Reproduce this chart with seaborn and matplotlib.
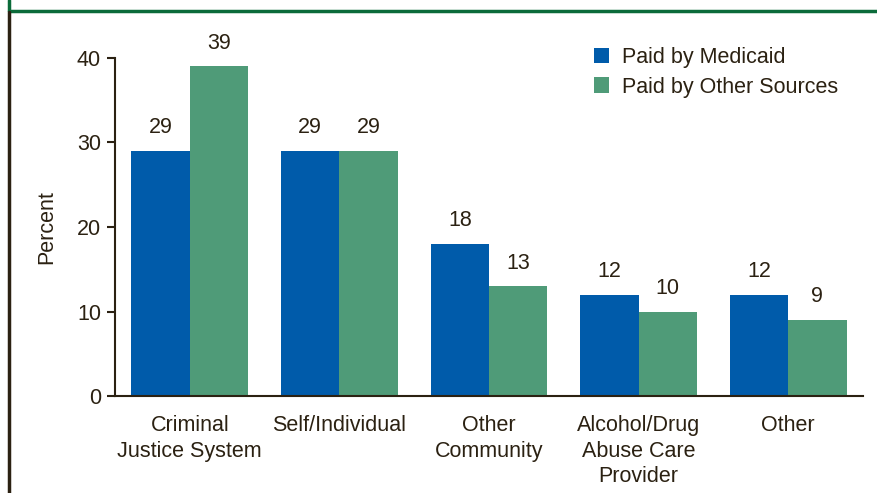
import matplotlib
matplotlib.use("Agg")
import matplotlib.pyplot as plt
import seaborn as sns
import pandas as pd
from matplotlib.lines import Line2D

categories = ["Criminal\nJustice System", "Self/Individual", "Other\nCommunity",
              "Alcohol/Drug\nAbuse Care\nProvider", "Other"]
medicaid = [29, 29, 18, 12, 12]
other_sources = [39, 29, 13, 10, 9]
series = ["Paid by Medicaid", "Paid by Other Sources"]
yticks = [0, 10, 20, 30, 40]

df = pd.DataFrame({
    "category": categories * 2,
    "value": medicaid + other_sources,
    "series": [series[0]] * len(categories) + [series[1]] * len(categories),
})

sns.set_style("white")
plt.rcParams["font.family"] = ["Liberation Sans", "DejaVu Sans"]
txt = "#2b2112"
fs = 15.5

fig = plt.figure(figsize=(8.77, 4.93), dpi=100)
ax = fig.add_axes([115/877, 1 - 396/493, (863-115)/877, (396-58)/493])

palette = {series[0]: "#005BAA", series[1]: "#4F9B78"}
sns.barplot(data=df, x="category", y="value", hue="series", palette=palette,
            width=0.78, gap=0, saturation=1, ax=ax, order=categories, hue_order=series,
            linewidth=0, edgecolor="none")

for cont in ax.containers:
    ax.bar_label(cont, padding=9, fontsize=fs, color=txt)

ax.set_ylim(0, 40)
ax.set_xlim(-0.5, len(categories) - 0.5)
ax.set_yticks(yticks)
ax.set_yticklabels([str(t) for t in yticks], fontsize=fs, color=txt)
ax.set_xticks(range(len(categories)))
ax.set_xticklabels(categories, fontsize=fs, color=txt, linespacing=1.28)
ax.set_xticks([i - 0.5 for i in range(len(categories) + 1)], minor=True)
ax.tick_params(axis="x", which="major", length=0, pad=14)
ax.tick_params(axis="x", which="minor", length=6, width=1.5, color=txt, direction="out")
ax.tick_params(axis="y", length=6, width=1.5, color=txt, direction="out", pad=4, left=True)
ax.set_xlabel("")
ax.set_ylabel("Percent", fontsize=fs, color=txt, labelpad=14)

for s in ["top", "right"]:
    ax.spines[s].set_visible(False)
for s in ["left", "bottom"]:
    ax.spines[s].set_color(txt)
    ax.spines[s].set_linewidth(1.5)

leg = ax.legend(loc="upper right", bbox_to_anchor=(0.993, 1.09), frameon=False, fontsize=fs,
                handlelength=0.7, handleheight=0.7, handletextpad=0.6, labelspacing=0.4)
for t in leg.get_texts():
    t.set_color(txt)

green = "#0B6B3A"
fig.add_artist(Line2D([9/877, 1], [1 - 11/493, 1 - 11/493], color=green, lw=2.5, transform=fig.transFigure))
fig.add_artist(Line2D([9/877, 9/877], [1 - 11/493, 1], color=green, lw=2.5, transform=fig.transFigure))
fig.add_artist(Line2D([9/877, 9/877], [0, 1 - 12/493], color=txt, lw=2.5, transform=fig.transFigure))

fig.savefig("out.png", dpi=100)
